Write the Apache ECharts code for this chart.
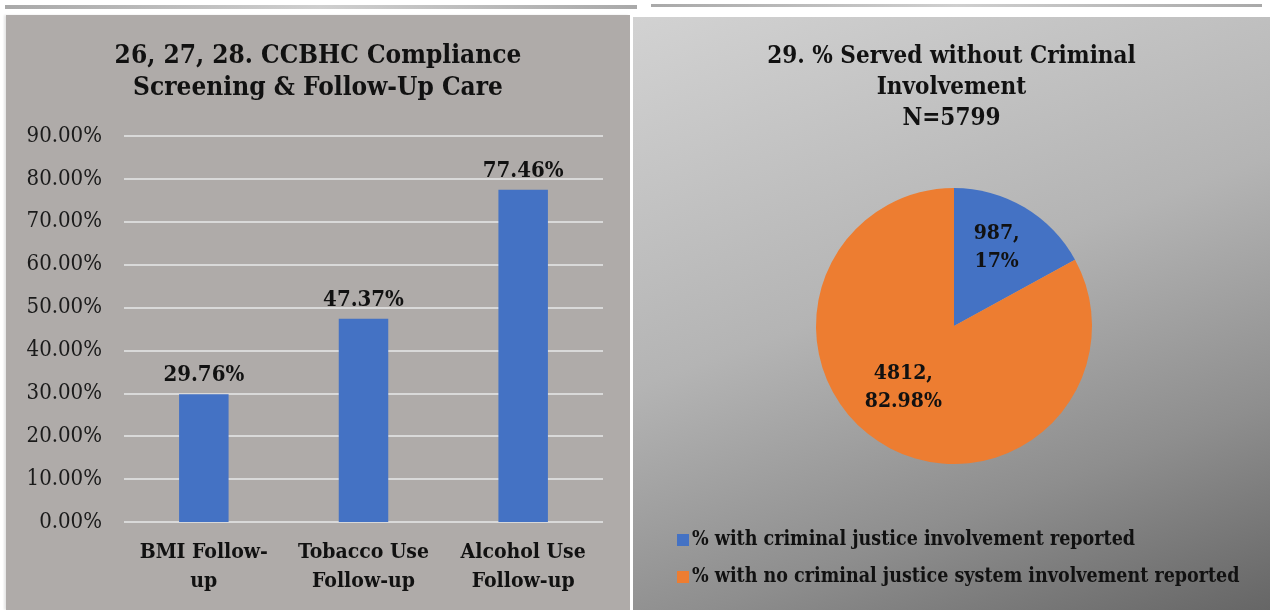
<!DOCTYPE html>
<html>
<head>
<meta charset="utf-8">
<script src="https://cdn.jsdelivr.net/npm/echarts@6/dist/echarts.min.js"></script>
<style>
  html, body { margin: 0; padding: 0; background: #fff; }
  body { width: 1270px; height: 610px; position: relative; overflow: hidden; }
  .topLine { position: absolute; top: 5px; height: 4px; background: linear-gradient(90deg, #a9a9a9, #cfcfcf, #a9a9a9); }
  .panel { position: absolute; top: 15px; height: 595px; }
  #barPanel { left: 6px; width: 624px; background: #afaba9; box-shadow: -2px 0 2px #e6e6e6; }
  #piePanel { left: 633px; width: 637px; top: 17px; height: 593px;
    background: linear-gradient(160deg, #d2d2d2 0%, #b4b4b4 45%, #8e8e8e 75%, #666 100%); }
  .chart { width: 100%; height: 100%; }
</style>
</head>
<body>
<div class="topLine" style="left:5px;width:632px"></div>
<div class="topLine" style="left:651px;width:611px;top:4px;height:3px"></div>
<div class="panel" id="barPanel"><div id="barChart" class="chart"></div></div>
<div class="panel" id="piePanel"><div id="pieChart" class="chart"></div></div>
<script>
// bar chart data
var barCategories = ["BMI Follow-\nup", "Tobacco Use\nFollow-up", "Alcohol Use\nFollow-up"];
var barValues = [29.76, 47.37, 77.46];
var yTicks = [0, 10, 20, 30, 40, 50, 60, 70, 80, 90];

// pie chart data
var pieNames = ["% with criminal justice involvement reported", "% with no criminal justice system involvement reported"];
var pieValues = [987, 4812];
var pieLabels = ["17%", "82.98%"];

var font = "'DejaVu Serif Condensed', 'Liberation Serif', serif";

var barChart = echarts.init(document.getElementById("barChart"));
barChart.setOption({
  textStyle: { fontFamily: font },
  title: {
    text: "26, 27, 28. CCBHC Compliance\nScreening & Follow-Up Care",
    left: "center",
    top: 20,
    textStyle: { fontFamily: font, fontSize: 26, fontWeight: "bold", color: "#111", lineHeight: 32 }
  },
  grid: { left: 118, right: 27, top: 121, bottom: 88 },
  xAxis: {
    type: "category",
    data: barCategories,
    axisLine: { show: false },
    axisTick: { show: false },
    axisLabel: { fontFamily: font, fontSize: 21, fontWeight: "bold", color: "#111", lineHeight: 29, margin: 16, interval: 0 }
  },
  yAxis: {
    type: "value",
    min: yTicks[0],
    max: yTicks[yTicks.length - 1],
    interval: 10,
    axisLabel: {
      fontFamily: font, fontSize: 22, color: "#1a1a1a", margin: 22,
      formatter: function (v) { return v.toFixed(2) + "%"; }
    },
    splitLine: { lineStyle: { color: "#d9d9d9", width: 2 } }
  },
  series: [{
    type: "bar",
    data: barValues,
    barWidth: "31%",
    itemStyle: { color: "#4472c4" },
    label: {
      show: true, position: "top", distance: 8,
      fontFamily: font, fontSize: 22, fontWeight: "bold", color: "#111",
      formatter: function (p) { return p.value.toFixed(2) + "%"; }
    }
  }]
});

var pieChart = echarts.init(document.getElementById("pieChart"));
pieChart.setOption({
  title: {
    text: "29. % Served without Criminal\nInvolvement\nN=5799",
    left: "center",
    top: 19,
    textStyle: { fontFamily: font, fontSize: 24, fontWeight: "bold", color: "#111", lineHeight: 31 }
  },
  legend: {
    orient: "vertical",
    left: 39,
    top: 508,
    itemWidth: 12,
    itemHeight: 12,
    itemGap: 17,
    icon: "rect",
    textStyle: { fontFamily: font, fontSize: 19.5, fontWeight: "bold", color: "#111", padding: [0, 0, 0, -2] },
    data: pieNames
  },
  series: [{
    type: "pie",
    center: [321, 309],
    radius: [0, 138],
    startAngle: 90,
    clockwise: true,
    data: pieNames.map(function (n, i) { return { name: n, value: pieValues[i] }; }),
    color: ["#4472c4", "#ed7d31"],
    label: {
      show: true, position: "inside",
      fontFamily: font, fontSize: 21, fontWeight: "bold", color: "#111", lineHeight: 28,
      formatter: function (p) { return p.value + ",\n" + pieLabels[p.dataIndex]; }
    },
    labelLayout: function (p) {
      return p.dataIndex === 0 ? { dx: 6, dy: -17 } : { dx: -14, dy: 0 };
    },
    labelLine: { show: false },
    emphasis: { disabled: true }
  }]
});
</script>
</body>
</html>
